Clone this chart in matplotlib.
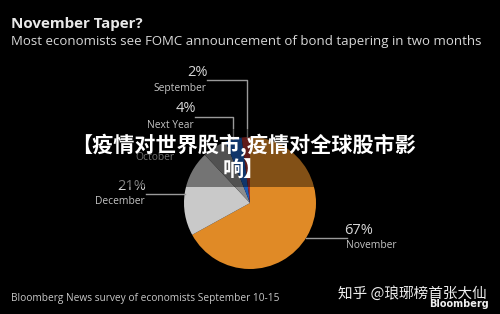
import matplotlib
matplotlib.use("Agg")
import matplotlib.pyplot as plt
import numpy as np
from matplotlib.patches import Rectangle

categories = ["November", "December", "October", "Next Year", "September"]
values = [67, 21, 6, 4, 2]
pct_labels = ["67%", "21%", "", "4%", "2%"]
colors = ["#E08A26", "#C9C9C9", "#8D8D8D", "#1D5CB8", "#A8302E"]

title = "November Taper?"
subtitle = "Most economists see FOMC announcement of bond tapering in two months"
source = "Bloomberg News survey of economists September 10-15"
banner = "【疫情对世界股市,疫情对全球股市影\n响】"
watermark = "知乎 @琅琊榜首张大仙"

W, H = 500, 314
fig = plt.figure(figsize=(W / 100, H / 100), dpi=100, facecolor="black")
ax = fig.add_axes([0, 0, 1, 1])
ax.set_facecolor("black")

def Y(yp):
    return H - yp

cx, cy, r = 250, Y(203), 66
wedges, _ = ax.pie(values, colors=colors, startangle=90, counterclock=False,
                   center=(cx, cy), radius=r, frame=True,
                   wedgeprops=dict(linewidth=0))
ax.set_xlim(0, W)
ax.set_ylim(0, H)
ax.set_aspect("equal")
ax.axis("off")

line_kw = dict(color="#9a9a9a", lw=1.0, zorder=3)
pct_kw = dict(color="#d6d6d6", fontsize=10.5, family="Open Sans", zorder=4)
name_kw = dict(color="#c4c4c4", fontsize=7.4, family="Open Sans", zorder=4)

def edge_y(x):
    return cy + np.sqrt(r ** 2 - (x - cx) ** 2)

def edge_x(y, side):
    return cx + side * np.sqrt(r ** 2 - (y - cy) ** 2)

# September
ax.plot([207, 247, 247], [Y(80), Y(80), edge_y(247)], **line_kw)
ax.text(198, Y(72), pct_labels[4], ha="center", va="center", **pct_kw)
ax.text(180, Y(88), categories[4], ha="center", va="center", **name_kw)
# Next Year
ax.plot([195, 233, 233], [Y(117), Y(117), edge_y(233)], **line_kw)
ax.text(186, Y(109), pct_labels[3], ha="center", va="center", **pct_kw)
ax.text(170, Y(125), categories[3], ha="center", va="center", **name_kw)
# October
ax.text(155, Y(157), categories[2], ha="center", va="center", **name_kw)
# December
ax.plot([146, edge_x(Y(194), -1)], [Y(194), Y(194)], **line_kw)
ax.text(132, Y(187), pct_labels[1], ha="center", va="center", **pct_kw)
ax.text(120, Y(202), categories[1], ha="center", va="center", **name_kw)
# November
ax.plot([edge_x(Y(238), 1), 347], [Y(238), Y(238)], **line_kw)
ax.text(359, Y(230), pct_labels[0], ha="center", va="center", **pct_kw)
ax.text(371, Y(245), categories[0], ha="center", va="center", **name_kw)

# titles
ax.text(11, Y(24), title, color="#e8e8e8", fontsize=10.9, fontweight="bold",
        family="Open Sans", ha="left", va="center")
ax.text(11, Y(42), subtitle, color="#d8d8d8", fontsize=9.5,
        family="Open Sans", ha="left", va="center")
ax.text(11, Y(299), source, color="#c8c8c8", fontsize=7.3,
        family="Open Sans", ha="left", va="center")
ax.text(489, Y(304), "Bloomberg", color="#f0f0f0", fontsize=7, fontweight="bold",
        family="DejaVu Sans", ha="right", va="center")
ax.text(487, Y(293), watermark, color="#ededed", fontsize=10.5,
        family=["Noto Sans CJK SC", "DejaVu Sans"], ha="right", va="center")

# banner overlay
ax.add_patch(Rectangle((0, Y(187)), W, 58, facecolor="black", alpha=0.42,
                       edgecolor="none", zorder=5))
ax.text(244, Y(157), banner, color="white", fontsize=15.2, fontweight="bold",
        family=["Noto Sans CJK SC", "DejaVu Sans"], ha="center", va="center",
        linespacing=1.22, multialignment="center", zorder=6)

fig.savefig("out.png", dpi=100, facecolor="black")
